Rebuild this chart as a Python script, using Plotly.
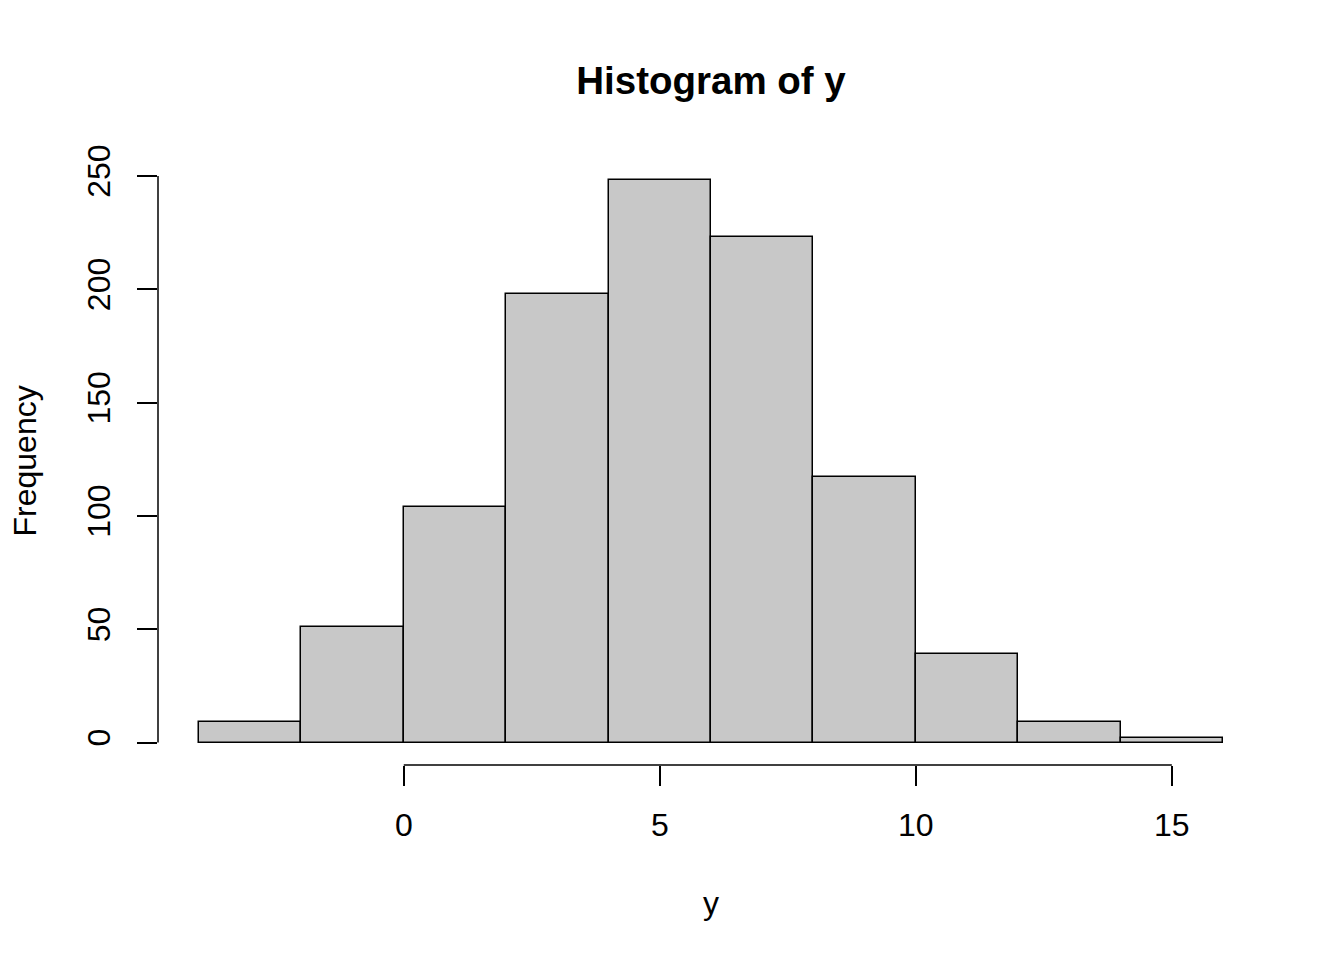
import plotly.graph_objects as go

# histogram of y: bin edges and counts
bin_edges = [-4, -2, 0, 2, 4, 6, 8, 10, 12, 14, 16]
counts = [9, 51, 104, 198, 248, 223, 117, 39, 9, 2]
x_ticks = [0, 5, 10, 15]
y_ticks = [0, 50, 100, 150, 200, 250]

mids = [(a + b) / 2 for a, b in zip(bin_edges[:-1], bin_edges[1:])]
widths = [b - a for a, b in zip(bin_edges[:-1], bin_edges[1:])]

font = "Liberation Sans, Arial, Helvetica, sans-serif"

fig = go.Figure()
fig.add_trace(go.Bar(
    x=mids, y=counts, width=widths,
    marker=dict(color="#C8C8C8", line=dict(color="black", width=1.5)),
    showlegend=False, hoverinfo="x+y",
))

# R style: ranges extended 4% beyond the data
lo, hi = bin_edges[0], bin_edges[-1]
pad_x = (hi - lo) * 0.04
ymax = max(counts)
pad_y = ymax * 0.04

fig.update_layout(
    width=1344, height=960,
    margin=dict(l=150, r=88, t=150, b=203),
    plot_bgcolor="white", paper_bgcolor="white",
    font=dict(family=font, size=32, color="black"),
    title=dict(text="<b>Histogram of y</b>", xref="paper", x=0.5, xanchor="center",
               y=1 - 73 / 960, yanchor="middle", font=dict(size=38.5)),
    bargap=0,
    xaxis=dict(range=[lo - pad_x, hi + pad_x], tickvals=x_ticks,
               ticks="outside", ticklen=20, tickwidth=1.5, tickcolor="black",
               showgrid=False, zeroline=False, showline=False,
               ticklabelstandoff=12),
    yaxis=dict(range=[-pad_y, ymax + pad_y], tickvals=y_ticks,
               ticks="outside", ticklen=20, tickwidth=1.5, tickcolor="black",
               tickangle=-90, showgrid=False, zeroline=False, showline=False,
               ticklabelstandoff=14),
)

# axis lines span only the tick range, as in base R
fig.add_shape(type="line", xref="x", yref="paper",
              x0=x_ticks[0], x1=x_ticks[-1], y0=0, y1=0,
              line=dict(color="black", width=1.5))
fig.add_shape(type="line", xref="paper", yref="y",
              x0=0, x1=0, y0=y_ticks[0], y1=y_ticks[-1],
              line=dict(color="black", width=1.5))

fig.add_annotation(text="y", xref="paper", yref="paper", x=0.5, y=-138 / 607,
                   showarrow=False, yanchor="middle", font=dict(size=32))
fig.add_annotation(text="Frequency", xref="paper", yref="paper",
                   x=-134 / 1106, y=0.5, showarrow=False, textangle=-90,
                   xanchor="center", yanchor="middle", font=dict(size=32))

fig.write_html("out.html")
